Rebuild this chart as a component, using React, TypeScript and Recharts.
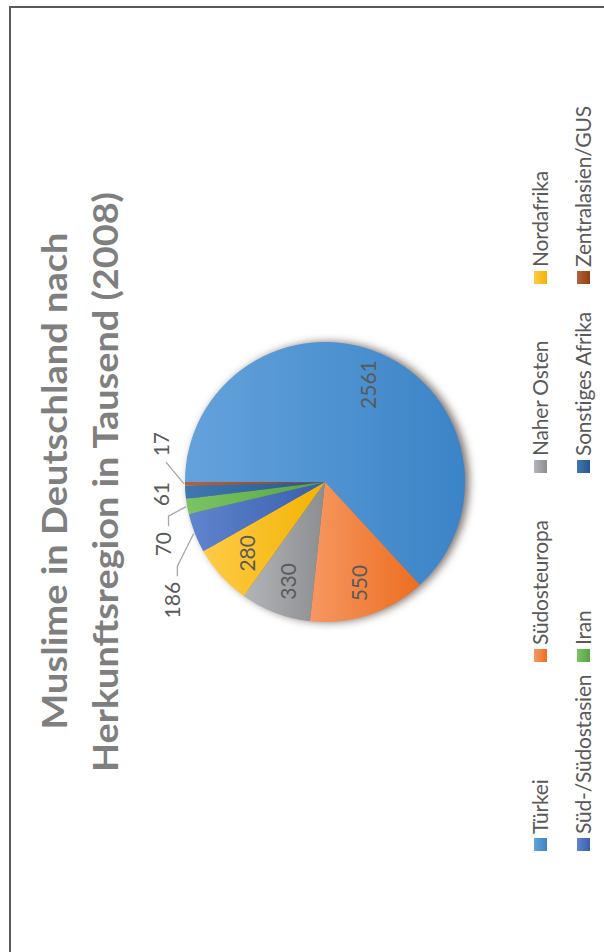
import React from 'react';
import { PieChart, Pie, Cell, Legend } from 'recharts';

const regions = [
  'Türkei',
  'Südosteuropa',
  'Naher Osten',
  'Nordafrika',
  'Süd-/Südostasien',
  'Iran',
  'Sonstiges Afrika',
  'Zentralasien/GUS',
];
const muslims = [2561, 550, 330, 280, 186, 70, 61, 17];
const lightColors = ['#64a2dc', '#f69862', '#b3b5b8', '#ffcb48', '#6186ce', '#7bc463', '#4177b0', '#ae6444'];
const darkColors = ['#3b84c7', '#ed6d20', '#8b8d90', '#f1b300', '#385dac', '#56a342', '#22588d', '#963d0e'];
const titleLines = ['Muslime in Deutschland nach', 'Herkunftsregion in Tausend (2008)'];
const legendRows = [[0, 1, 2, 3], [4, 5, 6, 7]];

// chart is drawn upright, then turned a quarter left like the reference
const W = 961;
const H = 600;
const CX = 485;
const CY = 316;
const R = 140;
const RAD = Math.PI / 180;
const LABEL_FONT = 'Lato, "Open Sans", sans-serif';
const LABEL_SIZE = 21;

const data = regions.map((name, i) => ({ name, value: muslims[i] }));
const total = muslims.reduce((a, b) => a + b, 0);

// small slices get their labels outside; push them apart from the middle one
const OUT_R = R + 25;
const labelWidth = (v: number) => String(v).length * 12;
const outsideShift: Record<number, number> = {};
(() => {
  let acc = 0;
  const items: { i: number; x: number; x0: number; w: number }[] = [];
  muslims.forEach((v, i) => {
    const bearing = ((acc + v / 2) / total) * 360;
    acc += v;
    if (v / total < 0.05) {
      const x = OUT_R * Math.sin(bearing * RAD);
      items.push({ i, x, x0: x, w: labelWidth(v) });
    }
  });
  items.sort((a, b) => a.x - b.x);
  const need = (a: any, b: any) => (a.w + b.w) / 2 + 26;
  const mid = Math.floor(items.length / 2);
  for (let k = mid + 1; k < items.length; k++) {
    items[k].x = Math.max(items[k].x, items[k - 1].x + need(items[k - 1], items[k]));
  }
  for (let k = mid - 1; k >= 0; k--) {
    items[k].x = Math.min(items[k].x, items[k + 1].x - need(items[k], items[k + 1]));
  }
  items.forEach((d) => (outsideShift[d.i] = d.x - d.x0));
})();

const polar = (cx: number, cy: number, r: number, angle: number) => ({
  x: cx + r * Math.cos(-angle * RAD),
  y: cy + r * Math.sin(-angle * RAD),
});

const renderLabel = (props: any) => {
  const { cx, cy, midAngle, outerRadius, index, value, percent } = props;
  if (percent >= 0.05) {
    const p = polar(cx, cy, outerRadius * 0.76, midAngle);
    return (
      <text key={`l${index}`} x={p.x} y={p.y} textAnchor="middle" dominantBaseline="central"
        fontFamily={LABEL_FONT} fontSize={LABEL_SIZE} fill="#595959">
        {value}
      </text>
    );
  }
  const n = polar(cx, cy, OUT_R, midAngle);
  const lx = n.x + (outsideShift[index] || 0);
  const ly = n.y;
  const edge = polar(cx, cy, outerRadius + 1, midAngle);
  const dist = Math.hypot(lx - edge.x, ly - edge.y);
  const hw = labelWidth(value) / 2;
  let line = null;
  if (dist > 30) {
    const dir = lx > edge.x ? -1 : 1;
    const end = { x: lx + dir * (hw + 6), y: ly + 6 };
    const knee = { x: end.x + dir * 10, y: end.y };
    const pts = dir < 0
      ? `${edge.x},${edge.y} ${end.x},${end.y}`
      : `${edge.x},${edge.y} ${knee.x},${knee.y} ${end.x},${end.y}`;
    line = <polyline points={pts} fill="none" stroke="#a6a6a6" strokeWidth={1.3} />;
  }
  return (
    <g key={`l${index}`}>
      {line}
      <text x={lx} y={ly} textAnchor="middle" dominantBaseline="central"
        fontFamily={LABEL_FONT} fontSize={LABEL_SIZE} fill="#595959">
        {value}
      </text>
    </g>
  );
};

const renderLegend = () => (
  <div style={{ position: 'relative', width: W, height: H }}>
    {legendRows.map((row, ri) =>
      row.map((idx, ci) => (
        <div key={idx} style={{
          position: 'absolute', left: 116 + ci * 189, top: 524 + ri * 43,
          height: 14, display: 'flex', alignItems: 'center', whiteSpace: 'nowrap',
        }}>
          <span style={{
            display: 'inline-block', width: 13, height: 13, flex: 'none',
            background: `linear-gradient(to bottom, ${lightColors[idx]}, ${darkColors[idx]})`,
          }} />
          <span style={{
            marginLeft: 4, fontFamily: LABEL_FONT, fontSize: 21, letterSpacing: -0.2,
            lineHeight: '14px', color: '#595959',
          }}>
            {regions[idx]}
          </span>
        </div>
      ))
    )}
  </div>
);

export default function App() {
  return (
    <div style={{ position: 'fixed', left: 0, top: 0, width: 604, height: 952, overflow: 'hidden', background: '#fff' }}>
      <style>{'g:has(> .recharts-pie-sector){filter:drop-shadow(0 4px 4px rgba(40,20,10,0.6));}'}</style>
      <div style={{
        position: 'absolute', left: 9, top: 967, width: W, height: H,
        transformOrigin: '0 0', transform: 'rotate(-90deg)', background: '#fff',
      }}>
        <PieChart width={W} height={H} margin={{ top: 0, right: 0, bottom: 0, left: 0 }}>
          <defs>
            {regions.map((_, i) => (
              <linearGradient key={i} id={`slice${i}`} x1="0" y1="0" x2="0" y2="1">
                <stop offset="0%" stopColor={lightColors[i]} />
                <stop offset="100%" stopColor={darkColors[i]} />
              </linearGradient>
            ))}
          </defs>
          {titleLines.map((t, i) => (
            <text key={t} x={[486, 485][i]} y={[58, 109][i]} textAnchor="middle"
              textLength={[497, 580][i]} lengthAdjust="spacingAndGlyphs"
              fontFamily={LABEL_FONT} fontWeight={700} fontSize={35} fill="#7f7f7f">
              {t}
            </text>
          ))}
          <Pie
            data={data}
            dataKey="value"
            nameKey="name"
            cx={CX}
            cy={CY}
            outerRadius={R}
            startAngle={90}
            endAngle={-270}
            stroke="none"
            label={renderLabel}
            labelLine={false}
            isAnimationActive={false}
          >
            {data.map((d, i) => (
              <Cell key={d.name} fill={`url(#slice${i})`} />
            ))}
          </Pie>
          <Legend content={renderLegend} verticalAlign="middle" wrapperStyle={{ left: 0, top: 0, width: W, height: H }} />
        </PieChart>
        <div style={{ position: 'absolute', inset: 0, border: '2px solid #595959', pointerEvents: 'none' }} />
      </div>
    </div>
  );
}
